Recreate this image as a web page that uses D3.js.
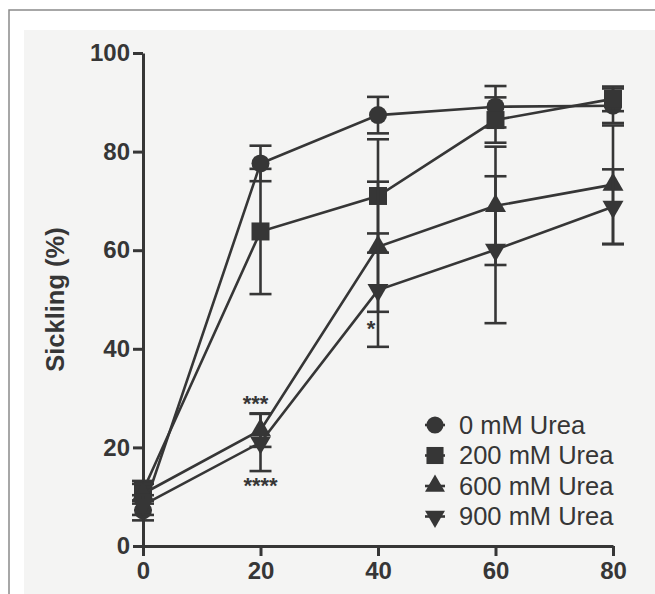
<!DOCTYPE html>
<html>
<head>
<meta charset="utf-8">
<script src="https://cdn.jsdelivr.net/npm/d3@7"></script>
<style>
  html, body { margin: 0; padding: 0; background: #fff; }
  svg { display: block; font-family: "Liberation Sans", Arial, sans-serif; }
  .axis path, .axis line { stroke: #363636; stroke-width: 3; }
  .axis text { fill: #363636; font-size: 24px; font-weight: bold; }
</style>
</head>
<body>
<div id="chart"></div>
<script>
// Sickling (%) vs time, four urea concentrations, mean ± SEM.
const xValues = [0, 20, 40, 60, 80];
const seriesNames = ["0 mM Urea", "200 mM Urea", "600 mM Urea", "900 mM Urea"];
const seriesShapes = ["circle", "square", "triangle", "triangleDown"];
const urea0 = [7.2, 77.6, 87.4, 89.1, 89.3];
const urea0Sem = [2.0, 3.6, 3.7, 4.2, 3.5];
const urea200 = [11.2, 63.8, 71.0, 86.4, 90.7];
const urea200Sem = [2.0, 12.7, 11.5, 4.6, 2.5];
const urea600 = [10.6, 23.5, 60.7, 69.0, 73.3];
const urea600Sem = [2.0, 3.4, 13.2, 12.0, 12.0];
const urea900 = [8.3, 21.0, 51.9, 60.1, 68.8];
const urea900Sem = [2.0, 5.8, 11.5, 14.9, 7.6];
const yTicks = [0, 20, 40, 60, 80, 100];
const xTicks = [0, 20, 40, 60, 80];
// significance marks: series index, point index, text, where
const annotations = [
  { s: 2, i: 1, text: "***", side: "above" },
  { s: 3, i: 1, text: "****", side: "below" },
  { s: 3, i: 2, text: "*", side: "left" }
];

const means = [urea0, urea200, urea600, urea900];
const sems = [urea0Sem, urea200Sem, urea600Sem, urea900Sem];
const series = seriesNames.map((name, k) => ({
  name, shape: seriesShapes[k],
  points: xValues.map((x, i) => ({ x, y: means[k][i], e: sems[k][i] }))
}));

const W = 655, H = 594, ink = "#363636";
const x = d3.scaleLinear([0, 80], [143, 613]);
const y = d3.scaleLinear([0, 100], [546, 53]);

const svg = d3.select("#chart").append("svg").attr("width", W).attr("height", H);

// scanned-page frame
svg.append("rect").attr("x", 24).attr("y", 30).attr("width", W - 24).attr("height", H - 30).attr("fill", "#f4f4f3");
svg.append("path").attr("d", `M9,${H}V10H${W}`).attr("fill", "none").attr("stroke", "#8a8a8a").attr("stroke-width", 1.5);

const symbolFor = (shape) => {
  if (shape === "circle") return { type: d3.symbolCircle, size: Math.PI * 9 * 9, rot: 0 };
  if (shape === "square") return { type: d3.symbolSquare, size: 18 * 18, rot: 0 };
  const tri = Math.sqrt(3) / 4 * 21 * 21;
  return { type: d3.symbolTriangle, size: tri, rot: shape === "triangleDown" ? 180 : 0 };
};

// axes
svg.append("g").attr("class", "axis")
  .attr("transform", `translate(${x(0)},0)`)
  .call(d3.axisLeft(y).tickValues(yTicks).tickSize(10).tickSizeOuter(0).tickPadding(3));
svg.append("g").attr("class", "axis")
  .attr("transform", `translate(0,${y(0)})`)
  .call(d3.axisBottom(x).tickValues(xTicks).tickSize(10).tickSizeOuter(0).tickPadding(6));

svg.append("text")
  .attr("transform", `translate(55,${(y(0) + y(100)) / 2}) rotate(-90)`)
  .attr("text-anchor", "middle").attr("dy", "0.35em")
  .attr("fill", ink).attr("font-size", 25.5).attr("font-weight", "bold")
  .text("Sickling (%)");

const line = d3.line().x((d) => x(d.x)).y((d) => y(d.y));
const capW = 11;

series.forEach((s) => {
  const g = svg.append("g");
  g.append("path").attr("d", line(s.points)).attr("fill", "none")
    .attr("stroke", ink).attr("stroke-width", 2.6);
  const eb = g.selectAll("g.eb").data(s.points).join("g").attr("class", "eb")
    .attr("stroke", ink).attr("stroke-width", 2.6);
  eb.append("line").attr("x1", (d) => x(d.x)).attr("x2", (d) => x(d.x))
    .attr("y1", (d) => y(d.y - d.e)).attr("y2", (d) => y(d.y + d.e));
  [1, -1].forEach((sg) => {
    eb.append("line").attr("x1", (d) => x(d.x) - capW).attr("x2", (d) => x(d.x) + capW)
      .attr("y1", (d) => y(d.y + sg * d.e)).attr("y2", (d) => y(d.y + sg * d.e));
  });
  const sym = symbolFor(s.shape);
  g.selectAll("path.pt").data(s.points).join("path").attr("class", "pt")
    .attr("d", d3.symbol(sym.type, sym.size))
    .attr("transform", (d) => `translate(${x(d.x)},${y(d.y)}) rotate(${sym.rot})`)
    .attr("fill", ink);
});

// asterisks
annotations.forEach((a) => {
  const p = series[a.s].points[a.i];
  let tx = x(p.x), ty;
  if (a.side === "above") { tx -= 5; ty = y(p.y + p.e) - 2; }
  else if (a.side === "below") { ty = y(p.y - p.e) + 22; }
  else { tx -= 7; ty = y(p.y - p.e * 0.6) + 12; }
  svg.append("text").attr("x", tx).attr("y", ty).attr("text-anchor", "middle")
    .attr("fill", ink).attr("font-size", 22).attr("font-weight", "bold").text(a.text);
});

// legend
const lgX = 435, lgY = 425, lgStep = 30.5;
series.forEach((s, k) => {
  const cy = lgY + k * lgStep;
  svg.append("line").attr("x1", lgX - 10).attr("x2", lgX + 10).attr("y1", cy).attr("y2", cy)
    .attr("stroke", ink).attr("stroke-width", 2.6);
  const sym = symbolFor(s.shape);
  svg.append("path").attr("d", d3.symbol(sym.type, sym.size * 0.9))
    .attr("transform", `translate(${lgX},${cy}) rotate(${sym.rot})`).attr("fill", ink);
  svg.append("text").attr("x", lgX + 24).attr("y", cy).attr("dy", "0.35em")
    .attr("fill", ink).attr("font-size", 25.5).text(s.name);
});
</script>
</body>
</html>
